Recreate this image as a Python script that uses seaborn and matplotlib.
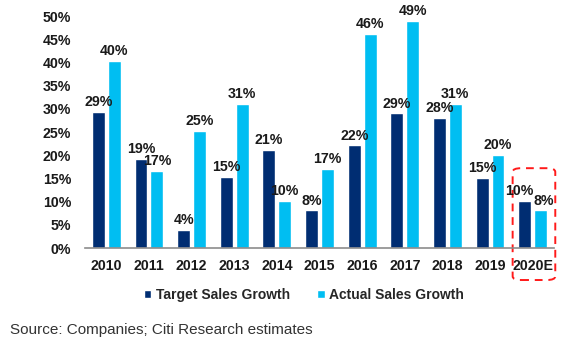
import matplotlib
matplotlib.use("Agg")
import matplotlib.pyplot as plt
import seaborn as sns
import pandas as pd
from matplotlib.patches import FancyBboxPatch

years = ["2010", "2011", "2012", "2013", "2014", "2015", "2016", "2017", "2018", "2019", "2020E"]
target = [29.4, 19.2, 3.9, 15.3, 21.1, 8.1, 22.1, 29.0, 28.1, 15.1, 10.1]
actual = [40.4, 16.6, 25.3, 31.0, 10.1, 17.1, 46.1, 48.9, 31.0, 20.1, 8.1]
series_names = ["Target Sales Growth", "Actual Sales Growth"]
colors = ["#002D72", "#00BEF2"]
yticks = [0, 5, 10, 15, 20, 25, 30, 35, 40, 45, 50]

df = pd.DataFrame({
    "Year": years * 2,
    "Value": target + actual,
    "Series": [series_names[0]] * len(years) + [series_names[1]] * len(years),
})

sns.set_theme(style="white")
plt.rcParams["font.family"] = ["Liberation Sans", "DejaVu Sans"]

fig = plt.figure(figsize=(5.67, 3.43), dpi=100)
ax = fig.add_axes([85 / 567, 1 - 248 / 343, (554 - 85) / 567, (248 - 16) / 343])

sns.barplot(data=df, x="Year", y="Value", hue="Series", palette=colors,
            width=0.745, gap=0.19, ax=ax, legend=True, saturation=1)

fs = 10.2
ax.set_ylim(0, 50)
ax.set_xlim(-0.5, len(years) - 0.5)
ax.set_yticks(yticks)
ax.set_yticklabels([f"{v}%" for v in yticks], fontsize=fs, fontweight="bold", color="#1a1a1a")
ax.set_xticks(range(len(years)))
ax.set_xticklabels(years, fontsize=fs, fontweight="bold", color="#1a1a1a")
ax.tick_params(axis="y", length=0, pad=10)
ax.tick_params(axis="x", length=0, pad=8)
ax.set_xlabel("")
ax.set_ylabel("")
for s in ["top", "right", "left"]:
    ax.spines[s].set_visible(False)
ax.spines["bottom"].set_color("#8c8c8c")
ax.spines["bottom"].set_linewidth(1.2)

idx = years.index("2020E")
shifts = [-5, 3]  # horizontal pixel nudges for the 2020E labels, as in the reference
for k, cont in enumerate(ax.containers):
    texts = ax.bar_label(cont, labels=[f"{v:.0f}%" for v in cont.datavalues], padding=2,
                         fontsize=fs, fontweight="bold", color="#1a1a1a")
    t = texts[idx]
    t.xyann = (t.xyann[0] + shifts[k] * 72 / 100, t.xyann[1])

handles, labels = ax.get_legend_handles_labels()
ax.get_legend().remove()
fig.legend(handles, labels, loc="center", bbox_to_anchor=(0.536, 1 - 295 / 343), ncol=2,
           frameon=False, handlelength=0.55, handleheight=0.55, handletextpad=0.3,
           columnspacing=2.0, prop={"weight": "bold", "size": 10})

box = FancyBboxPatch((idx - 0.47, -6.9), 1.0, 24.1,
                     boxstyle="round,pad=0,rounding_size=0.2",
                     fill=False, edgecolor="#FF1A1A", linestyle=(0, (4, 3)), linewidth=1.4,
                     clip_on=False, transform=ax.transData, mutation_aspect=4)
ax.add_patch(box)

fig.text(10 / 567, 1 - 330 / 343, "Source: Companies; Citi Research estimates",
         fontsize=11, color="#333333", va="center", ha="left")

fig.savefig("out.png", dpi=100)
